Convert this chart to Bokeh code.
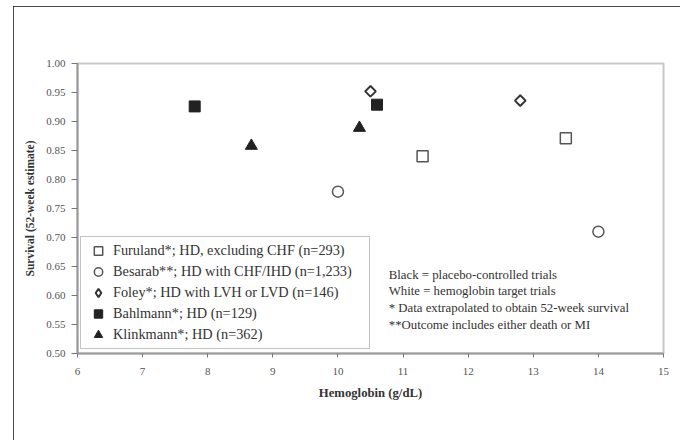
import math
from bokeh.plotting import figure
from bokeh.models import (Range1d, FixedTicker, NumeralTickFormatter, Legend, LegendItem, Label)
from bokeh.embed import file_html
from bokeh.resources import INLINE

# ---- data ----
furuland_x = [11.3, 13.5]
furuland_y = [0.840, 0.871]
besarab_x = [10.0, 14.0]
besarab_y = [0.779, 0.710]
foley_x = [10.5, 12.8]
foley_y = [0.952, 0.936]
bahlmann_x = [7.8, 10.6]
bahlmann_y = [0.926, 0.929]
klinkmann_x = [8.67, 10.33]
klinkmann_y = [0.858, 0.889]

legend_labels = [
    "Furuland*; HD, excluding CHF (n=293)",
    "Besarab**; HD with CHF/IHD (n=1,233)",
    "Foley*; HD with LVH or LVD (n=146)",
    "Bahlmann*; HD (n=129)",
    "Klinkmann*; HD (n=362)",
]
notes = [
    "Black = placebo-controlled trials",
    "White = hemoglobin target trials",
    "* Data extrapolated to obtain 52-week survival",
    "**Outcome includes either death or  MI",
]
x_ticks = [6, 7, 8, 9, 10, 11, 12, 13, 14, 15]
y_ticks = [0.50, 0.55, 0.60, 0.65, 0.70, 0.75, 0.80, 0.85, 0.90, 0.95, 1.00]

SERIF = "Liberation Serif"

p = figure(width=667, height=434, output_backend="svg", toolbar_location=None,
           x_range=Range1d(6, 15), y_range=Range1d(0.5, 1.0),
           min_border_left=64, min_border_right=17, min_border_top=57, min_border_bottom=87)
p.styles = {"margin-left": "13px", "margin-top": "6px",
            "outline": "1.5px solid #111111", "outline-offset": "-1.5px"}
p.grid.visible = False
p.background_fill_color = "white"
p.border_fill_color = "white"
p.outline_line_color = "#c8c8c8"
p.outline_line_width = 2

# axes
for ax in (p.xaxis[0], p.yaxis[0]):
    ax.axis_line_color = "#9a9a9a"
    ax.axis_line_width = 2
    ax.major_tick_line_color = "#777777"
    ax.major_tick_in = 0
    ax.minor_tick_line_color = None
    ax.major_label_text_font = SERIF
    ax.major_label_text_font_size = "11px"
    ax.major_label_text_color = "#555555"
    ax.axis_label_text_font = SERIF
    ax.axis_label_text_font_style = "bold"
    ax.axis_label_text_color = "#333333"

p.xaxis.ticker = FixedTicker(ticks=x_ticks)
p.xaxis.major_tick_out = 4
p.xaxis.major_label_standoff = 10
p.xaxis.axis_label = "Hemoglobin (g/dL)"
p.xaxis.axis_label_text_font_size = "12.7px"
p.xaxis.axis_label_standoff = 8

p.yaxis.ticker = FixedTicker(ticks=y_ticks)
p.yaxis.formatter = NumeralTickFormatter(format="0.00")
p.yaxis.major_tick_out = 6
p.yaxis.major_label_standoff = 6
p.yaxis.axis_label = "Survival (52-week estimate)"
p.yaxis.axis_label_text_font_size = "11.5px"
p.yaxis.axis_label_standoff = 7

open_col = "#555555"
fill_col = "#222222"
r1 = p.scatter(furuland_x, furuland_y, marker="square", size=11, fill_color="white",
               line_color=open_col, line_width=1.5)
r2 = p.scatter(besarab_x, besarab_y, marker="circle", size=11, fill_color="white",
               line_color=open_col, line_width=1.5)
r3 = p.scatter(foley_x, foley_y, marker="square", angle=math.pi / 4, size=7.5,
               fill_color="white", line_color="#333333", line_width=2)
# legend swatch for Foley (the legend ignores marker angle, so use a diamond marker there)
r3_key = p.scatter(foley_x, foley_y, marker="diamond", size=11, fill_color="white",
                   line_color="#333333", line_width=2, visible=False)
r4 = p.scatter(bahlmann_x, bahlmann_y, marker="square", size=11, fill_color=fill_col,
               line_color=fill_col, line_width=1)
r5 = p.scatter(klinkmann_x, klinkmann_y, marker="triangle", size=12, fill_color=fill_col,
               line_color=fill_col, line_width=1)

items = [LegendItem(label=lab, renderers=[r])
         for lab, r in zip(legend_labels, [r1, r2, r3_key, r4, r5])]
legend = Legend(items=items, location=(3, 4), orientation="vertical",
                padding=3, margin=0, spacing=0, glyph_width=28, glyph_height=21,
                label_standoff=1, label_width=253, label_height=17,
                label_text_font=SERIF, label_text_font_size="14.3px", label_text_color="#333333",
                border_line_color="#888888", border_line_width=1.5,
                inactive_fill_alpha=0.0,
                background_fill_color="white", background_fill_alpha=1.0)
p.add_layout(legend, "center")

note_y = [0.636, 0.607, 0.578, 0.549]
for t, yy in zip(notes, note_y):
    p.add_layout(Label(x=10.78, y=yy, text=t, text_font=SERIF, text_font_size="12.8px",
                       text_color="#333333", text_baseline="middle", text_align="left"))

open("out.html", "w").write(file_html(p, INLINE))
